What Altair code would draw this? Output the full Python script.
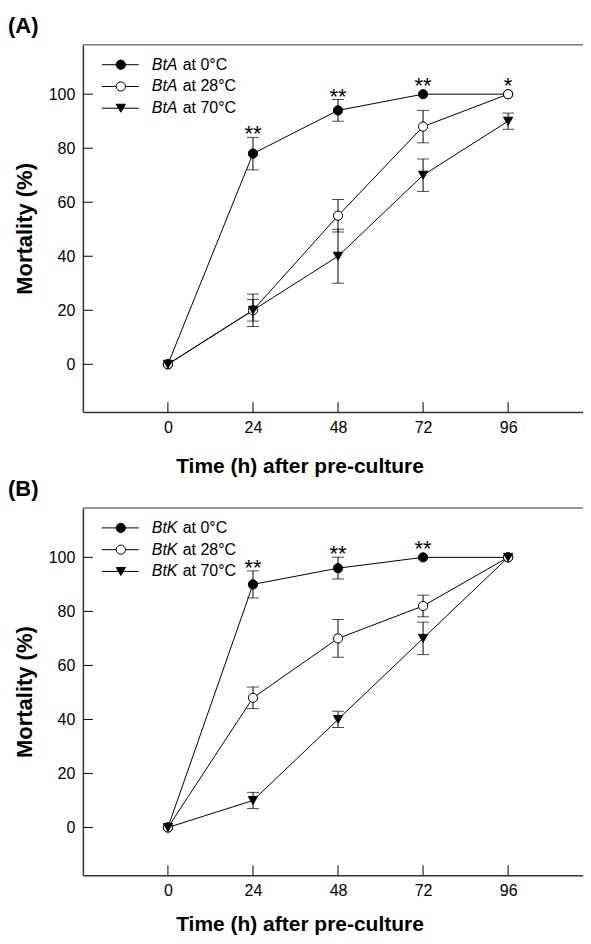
import altair as alt
import pandas as pd

# ---------------- data ----------------
hours = [0, 24, 48, 72, 96]
series_a = ["BtA at 0°C", "BtA at 28°C", "BtA at 70°C"]
series_b = ["BtK at 0°C", "BtK at 28°C", "BtK at 70°C"]

a_0 = [0, 78, 94, 100, 100]
a_0_err = [0, 6, 4, 0, 0]
a_28 = [0, 20, 55, 88, 100]
a_28_err = [0, 6, 6, 6, 0]
a_70 = [0, 20, 40, 70, 90]
a_70_err = [0, 4, 10, 6, 3]

b_0 = [0, 90, 96, 100, 100]
b_0_err = [0, 5, 4, 0, 0]
b_28 = [0, 48, 70, 82, 100]
b_28_err = [0, 4, 7, 4, 0]
b_70 = [0, 10, 40, 70, 100]
b_70_err = [0, 3, 3, 6, 0]

stars_a = ["", "**", "**", "**", "*"]
stars_b = ["", "**", "**", "**", ""]

x_ticks = [0, 24, 48, 72, 96]
y_ticks = [0, 20, 40, 60, 80, 100]

FONT = "Liberation Sans"
W, H = 508, 368
XDOM = [-24, 119.1]
YDOM = [-17.7, 118.3]


def build_panel(tag, names, vals, errs, stars, xtitle_pad):
    rows = []
    for k, (nm, v, e) in enumerate(zip(names, vals, errs)):
        for t, m, er in zip(hours, v, e):
            rows.append({"series": nm, "k": k, "t": t, "m": m, "err": er,
                         "lo": m - er, "hi": m + er})
    df = pd.DataFrame(rows)
    eb = df[df.err > 0]

    # stars sit above the highest error bar / marker at each time
    srows = []
    for i, t in enumerate(hours):
        if stars[i]:
            tops = [vals[j][i] + max(errs[j][i], 2) for j in range(3)]
            srows.append({"t": t, "s": stars[i], "top": max(tops)})
    sdf = pd.DataFrame(srows)

    xs = alt.Scale(domain=XDOM, nice=False, zero=False)
    ys = alt.Scale(domain=YDOM, nice=False, zero=False)
    xaxis = alt.Axis(values=x_ticks, title="Time (h) after pre-culture",
                     titlePadding=xtitle_pad, labelPadding=7, titleX=217,
                     titleFontSize=21)
    yaxis = alt.Axis(values=y_ticks, title="Mortality (%)",
                     titlePadding=12, labelPadding=8, titleFontSize=22)

    def X(f):
        return alt.X(f, scale=xs, axis=xaxis)

    def Y(f):
        return alt.Y(f, scale=ys, axis=yaxis)

    shape_sc = alt.Scale(domain=names, range=["circle", "circle", "triangle-down"])
    fill_sc = alt.Scale(domain=names, range=["black", "white", "black"])
    size_sc = alt.Scale(domain=names, range=[85, 85, 95])

    lines = alt.Chart(df).mark_line(color="black", strokeWidth=1).encode(
        x=X("t:Q"), y=Y("m:Q"), detail="series:N")

    xt = alt.Chart(pd.DataFrame({"t": x_ticks})).mark_rule(
        color="black", strokeWidth=1).encode(
        x=X("t:Q"), y=alt.value(H), y2=alt.value(H - 10))
    yt = alt.Chart(pd.DataFrame({"m": y_ticks})).mark_rule(
        color="black", strokeWidth=1).encode(
        y=Y("m:Q"), x=alt.value(0), x2=alt.value(10))
    topline = alt.Chart(pd.DataFrame({"a": [0]})).mark_rule(
        color="#7a7a7a", strokeWidth=1.5).encode(
        y=alt.value(0), x=alt.value(0), x2=alt.value(W))

    ebar = alt.Chart(eb).mark_rule(color="black", strokeWidth=1).encode(
        x=X("t:Q"), y=Y("lo:Q"), y2="hi:Q")
    cap_hi = alt.Chart(eb).mark_tick(color="black", thickness=1, size=12,
                                     orient="horizontal").encode(
        x=X("t:Q"), y=Y("hi:Q"))
    cap_lo = alt.Chart(eb).mark_tick(color="black", thickness=1, size=12,
                                     orient="horizontal").encode(
        x=X("t:Q"), y=Y("lo:Q"))

    pts = alt.Chart(df).mark_point(filled=False, stroke="black", strokeWidth=1,
                                   opacity=1).encode(
        x=X("t:Q"), y=Y("m:Q"),
        shape=alt.Shape("series:N", scale=shape_sc, legend=None),
        fill=alt.Fill("series:N", scale=fill_sc, legend=None),
        size=alt.Size("series:N", scale=size_sc, legend=None),
        order=alt.Order("k:Q"),
    )

    star_txt = alt.Chart(sdf).mark_text(font=FONT, fontSize=22, baseline="alphabetic",
                                        dy=4, color="black").encode(
        x=X("t:Q"), y=Y("top:Q"), text="s:N")

    # ---- legend (drawn by hand to allow italic strain names) ----
    leg = pd.DataFrame({"series": names, "k": [0, 1, 2],
                        "ital": [n.split(" ")[0] for n in names],
                        "rest": [n.split(" ", 1)[1] for n in names]})
    ly = alt.Y("ly:Q", scale=None)
    base_leg = alt.Chart(leg).transform_calculate(ly="20 + datum.k * 21.8")
    leg_line = base_leg.mark_rule(color="black", strokeWidth=1).encode(
        y=ly, x=alt.value(19), x2=alt.value(56))
    leg_pt = base_leg.mark_point(filled=False, stroke="black", strokeWidth=1,
                                 opacity=1).encode(
        y=ly, x=alt.value(38),
        shape=alt.Shape("series:N", scale=shape_sc, legend=None),
        fill=alt.Fill("series:N", scale=fill_sc, legend=None),
        size=alt.Size("series:N", scale=size_sc, legend=None))
    leg_it = base_leg.mark_text(font=FONT, fontSize=16, fontStyle="italic",
                                align="left", baseline="middle").encode(
        y=ly, x=alt.value(69), text="ital:N")
    leg_rest = base_leg.mark_text(font=FONT, fontSize=16, align="left",
                                  baseline="middle").encode(
        y=ly, x=alt.value(100), text="rest:N")

    label = alt.Chart(pd.DataFrame({"l": [tag]})).mark_text(
        font=FONT, fontSize=22, fontWeight="bold", align="left",
        baseline="alphabetic").encode(
        x=alt.value(-75), y=alt.value(-12), text="l:N")

    return alt.layer(topline, lines, xt, yt, ebar, cap_hi, cap_lo, pts,
                     star_txt, leg_line, leg_pt, leg_it, leg_rest, label
                     ).properties(width=W, height=H)


pa = build_panel("(A)", series_a, [a_0, a_28, a_70], [a_0_err, a_28_err, a_70_err],
                 stars_a, 21)
pb = build_panel("(B)", series_b, [b_0, b_28, b_70], [b_0_err, b_28_err, b_70_err],
                 stars_b, 15)

chart = alt.vconcat(pa, pb, spacing=96, bounds="flush").properties(
    padding={"left": 0, "top": 6, "right": -8, "bottom": 0}
).resolve_scale(shape="independent", fill="independent", size="independent"
).configure_view(stroke=None).configure_axis(
    grid=False, ticks=False, labelFont=FONT, labelFontSize=16, labelColor="black",
    titleFont=FONT, titleFontSize=20, titleFontWeight="bold", titleColor="black",
    domainColor="#333333", domainWidth=1.5,
)

chart.save("out.html", embed_options={"renderer": "svg", "actions": False})
